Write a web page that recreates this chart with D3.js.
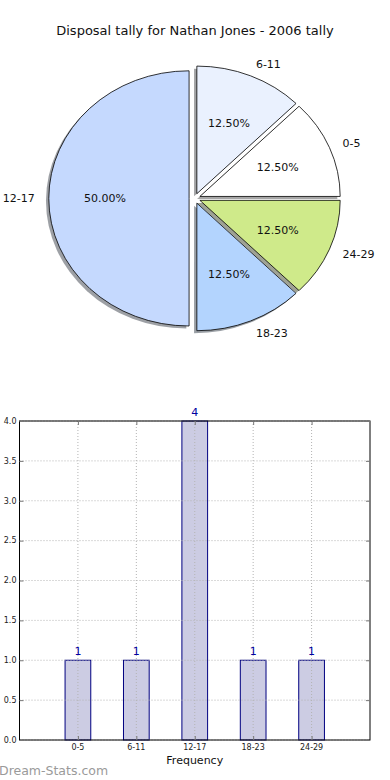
<!DOCTYPE html>
<html><head><meta charset="utf-8">
<script src="https://cdn.jsdelivr.net/npm/d3@7"></script>
<style>body{margin:0;background:#fff}svg{display:block;font-family:"DejaVu Sans",sans-serif}</style>
</head><body><svg id="c" width="390" height="780"></svg>
<script>
const categories = ["0-5","6-11","12-17","18-23","24-29"];
const counts = [1,1,4,1,1];
const pieColors = ["#ffffff","#eaf1fe","#c5d9fe","#b3d4fe","#cfea8a"];
const yTicks = [0,0.5,1,1.5,2,2.5,3,3.5,4];
const titleText = "Disposal tally for Nathan Jones - 2006 tally";
const xLabelText = "Frequency";
const watermark = "Dream-Stats.com";

const svg = d3.select("#c");
svg.append("rect").attr("width",390).attr("height",780).attr("fill","#fff");

// Title
svg.append("text").attr("x",195).attr("y",34.5).attr("text-anchor","middle")
  .attr("font-size",13).attr("fill","#111").text(titleText);

// Pie (elliptical, matplotlib style)
const cx = 194.7, cy = 198.4, sx = 140.3, sy = 127.6, ex = 0.04;
const total = d3.sum(counts);
const pie = d3.pie().sort(null).startAngle(Math.PI/2).endAngle(Math.PI/2 - 2*Math.PI);
const arcs = pie(counts);
const arcGen = d3.arc().innerRadius(0).outerRadius(1);
const pieG = svg.append("g");
const info = arcs.map((a,i)=>{
  const m = (a.startAngle + a.endAngle)/2;
  const s = Math.sin(m), c = Math.cos(m);
  return {a, i, s, c, ox: cx + ex*sx*s, oy: cy - ex*sy*c};
});
// shadows
pieG.selectAll("path.shadow").data(info).join("path").attr("class","shadow")
  .attr("transform", d=>`translate(${d.ox - 0.02*sx},${d.oy + 0.02*sy}) scale(${sx},${sy})`)
  .attr("d", d=>arcGen(d.a))
  .attr("fill", d=>{const col=d3.rgb(pieColors[d.i]); return d3.rgb(col.r*0.3,col.g*0.3,col.b*0.3).toString();})
  .attr("fill-opacity",0.5).attr("stroke","none");
// wedges
pieG.selectAll("path.wedge").data(info).join("path").attr("class","wedge")
  .attr("transform", d=>`translate(${d.ox},${d.oy}) scale(${sx},${sy})`)
  .attr("d", d=>arcGen(d.a))
  .attr("fill", d=>pieColors[d.i]).attr("stroke","#000").attr("stroke-width",0.8)
  .attr("vector-effect","non-scaling-stroke").attr("stroke-linejoin","round");
// labels
pieG.selectAll("text.lab").data(info).join("text").attr("class","lab")
  .attr("x", d=>d.ox + 1.1*sx*d.s).attr("y", d=>d.oy - 1.1*sy*d.c).attr("dy","0.35em")
  .attr("text-anchor", d=> d.s > 0 ? "start" : "end")
  .attr("font-size",11).attr("fill","#111").text(d=>categories[d.i]);
pieG.selectAll("text.pct").data(info).join("text").attr("class","pct")
  .attr("x", d=>d.ox + 0.6*sx*d.s).attr("y", d=>d.oy - 0.6*sy*d.c).attr("dy","0.35em")
  .attr("text-anchor","middle").attr("font-size",11).attr("fill","#111")
  .text(d=>(100*counts[d.i]/total).toFixed(2)+"%");

// Bar chart
const L=19.5, R=370, T=421, B=740;
const x = d3.scaleLinear().domain([-1,5]).range([L,R]);
const y = d3.scaleLinear().domain([0,4]).range([B,T]);
const bw = 0.44;
const g = svg.append("g");
// bars
g.selectAll("rect.bar").data(counts).join("rect")
  .attr("x",(d,i)=>x(i-bw/2)).attr("width",x(bw)-x(0))
  .attr("y",d=>y(d)).attr("height",d=>y(0)-y(d))
  .attr("fill","#ccccE3").attr("stroke","#000080").attr("stroke-width",1);
// grid (drawn above bars)
g.selectAll("line.gx").data(categories).join("line")
  .attr("x1",(d,i)=>x(i)).attr("x2",(d,i)=>x(i)).attr("y1",T).attr("y2",B)
  .attr("stroke","#b4b4b4").attr("stroke-width",1).attr("stroke-dasharray","1,2");
g.selectAll("line.gy").data(yTicks).join("line")
  .attr("x1",L).attr("x2",R).attr("y1",d=>y(d)).attr("y2",d=>y(d))
  .attr("stroke","#b4b4b4").attr("stroke-width",1).attr("stroke-dasharray","1,2");
// value labels
g.selectAll("text.val").data(counts).join("text")
  .attr("x",(d,i)=>x(i)).attr("y",d=>y(d)-5)
  .attr("text-anchor","middle").attr("font-size",11).attr("fill","#0000a0").text(d=>d);
// frame
g.append("rect").attr("x",L).attr("y",T).attr("width",R-L).attr("height",B-T)
  .attr("fill","none").attr("stroke","#000").attr("stroke-width",1);
// ticks (inward)
const yAxisL = d3.axisRight(y).tickValues(yTicks).tickSize(4).tickFormat("");
const yAxisR = d3.axisLeft(y).tickValues(yTicks).tickSize(4).tickFormat("");
g.append("g").attr("transform",`translate(${L},0)`).call(yAxisL).call(s=>s.select(".domain").remove()).selectAll("line").attr("stroke","#777");
g.append("g").attr("transform",`translate(${R},0)`).call(yAxisR).call(s=>s.select(".domain").remove()).selectAll("line").attr("stroke","#777");
const xAxisB = d3.axisTop(x).tickValues(d3.range(categories.length)).tickSize(4).tickFormat("");
const xAxisT = d3.axisBottom(x).tickValues(d3.range(categories.length)).tickSize(4).tickFormat("");
g.append("g").attr("transform",`translate(0,${B})`).call(xAxisB).call(s=>s.select(".domain").remove()).selectAll("line").attr("stroke","#777");
g.append("g").attr("transform",`translate(0,${T})`).call(xAxisT).call(s=>s.select(".domain").remove()).selectAll("line").attr("stroke","#777");
// tick labels
g.selectAll("text.yt").data(yTicks).join("text")
  .attr("x",L-3).attr("y",d=>y(d)).attr("dy","0.35em").attr("text-anchor","end")
  .attr("font-size",8).attr("fill","#222").text(d=>d.toFixed(1));
g.selectAll("text.xt").data(categories).join("text")
  .attr("x",(d,i)=>x(i)).attr("y",B+10).attr("text-anchor","middle")
  .attr("font-size",8).attr("fill","#222").text(d=>d);
g.append("text").attr("x",(L+R)/2).attr("y",B+24).attr("text-anchor","middle")
  .attr("font-size",11).attr("fill","#111").text(xLabelText);
// watermark
svg.append("text").attr("x",-1).attr("y",775).attr("font-size",12.5)
  .attr("fill","#9a9a9a").text(watermark);
</script></body></html>
